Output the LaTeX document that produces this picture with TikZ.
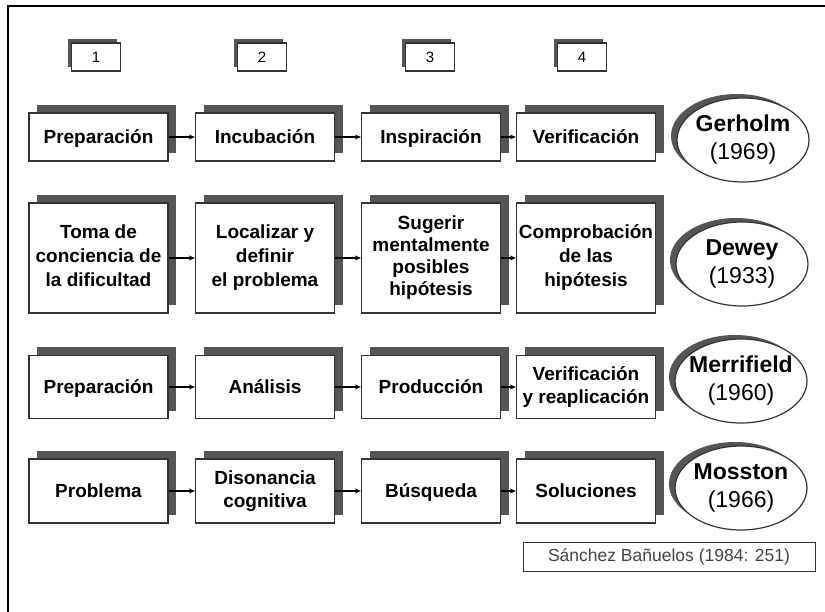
\documentclass[tikz,border=0pt]{standalone}
\usepackage{fontspec}
\setmainfont{Liberation Sans}
\usetikzlibrary{arrows.meta,shapes.geometric,shadows}
\definecolor{boxline}{HTML}{333333}
\definecolor{shadowgray}{HTML}{555555}
\definecolor{citegray}{HTML}{444444}
\begin{document}
\begin{tikzpicture}[x=1pt,y=-1pt,
  stepbox/.style={draw=boxline, line width=1.3pt, fill=white, minimum width=139pt,
    minimum height=#1, align=center, inner sep=0pt,
    font=\bfseries\fontsize{19}{23}\selectfont,
    execute at begin node=\vphantom{Ápy},
    execute at end node=\vphantom{Ápy},
    general shadow={shadow xshift=8pt, shadow yshift=8pt, fill=shadowgray}},
  numbox/.style={draw=boxline, line width=1.2pt, fill=white, minimum width=49pt,
    minimum height=28pt, inner sep=0pt, font=\fontsize{15}{17}\selectfont,
    general shadow={shadow xshift=-3.5pt, shadow yshift=3.5pt, fill=shadowgray}},
  author/.style={ellipse, draw=boxline, line width=1.2pt, fill=white, minimum width=132pt,
    minimum height=84pt, inner sep=0pt,
    general shadow={shadow xshift=-6pt, shadow yshift=4pt, fill=shadowgray}},
  authortext/.style={align=center, inner sep=0pt, font=\fontsize{23}{28}\selectfont},
  flow/.style={draw=black, line width=1.1pt, -{Stealth[length=6pt,width=5pt]}},
  citebox/.style={draw=boxline, line width=1pt, fill=white, minimum width=292pt,
    minimum height=29pt, inner sep=0pt, text=citegray, font=\fontsize{17.5}{20}\selectfont}
]
\useasboundingbox (0,0) rectangle (825,612);
\fill[white] (0,0) rectangle (825,612);
% frame
\draw[line width=2.5pt, black] (8,613) -- (8,6) -- (826,6);

% number boxes
\node[numbox] (n1) at (96,57) {1};
\node[numbox] (n2) at (262,57) {2};
\node[numbox] (n3) at (430,57) {3};
\node[numbox] (n4) at (582,57) {4};

% row 1
\node[stepbox=48pt] (a1) at (98.5,137) {Preparación};
\node[stepbox=48pt] (a2) at (265,137) {Incubación};
\node[stepbox=48pt] (a3) at (431,137) {Inspiración};
\node[stepbox=48pt] (a4) at (586,137) {Verificación};
\node[author] (e1) at (743,140) {};
\node[authortext] (e1t) at (e1.center) {\textbf{Gerholm}\\(1969)};

% row 2
\node[stepbox=110pt, font=\bfseries\fontsize{19}{24}\selectfont] (b1) at (98.5,258) {Toma de\\conciencia de\\la dificultad};
\node[stepbox=110pt, font=\bfseries\fontsize{19}{24}\selectfont] (b2) at (265,258) {Localizar y\\definir\\el problema};
\node[stepbox=110pt, font=\bfseries\fontsize{19}{22}\selectfont] (b3) at (431,258) {Sugerir\\mentalmente\\posibles\\hipótesis};
\node[stepbox=110pt, font=\bfseries\fontsize{19}{24}\selectfont] (b4) at (586,258) {Comprobación\\de las\\hipótesis};
\node[author] (e2) at (742,264) {};
\node[authortext] (e2t) at (e2.center) {\textbf{Dewey}\\(1933)};

% row 3
\node[stepbox=63pt] (c1) at (98.5,387) {Preparación};
\node[stepbox=63pt] (c2) at (265,387) {Análisis};
\node[stepbox=63pt] (c3) at (431,387) {Producción};
\node[stepbox=63pt, font=\bfseries\fontsize{19}{23}\selectfont] (c4) at (586,387) {Verificación\\y reaplicación};
\node[author] (e3) at (741,381) {};
\node[authortext] (e3t) at (e3.center) {\textbf{Merrifield}\\(1960)};

% row 4
\node[stepbox=64pt] (d1) at (98.5,491) {Problema};
\node[stepbox=64pt, font=\bfseries\fontsize{19}{23}\selectfont] (d2) at (265,491) {Disonancia\\cognitiva};
\node[stepbox=64pt] (d3) at (431,491) {Búsqueda};
\node[stepbox=64pt] (d4) at (586,491) {Soluciones};
\node[author] (e4) at (741,488) {};
\node[authortext] (e4t) at (e4.center) {\textbf{Mosston}\\(1966)};

% connectors
\foreach \r in {a,b,c,d}{
  \draw[flow] (\r1.east) -- (\r2.west);
  \draw[flow] (\r2.east) -- (\r3.west);
  \draw[flow] (\r3.east) -- (\r4.west);
}

% citation
\node[citebox] (cite) at (669,556.5) {Sánchez Bañuelos (1984: 251)};
\end{tikzpicture}
\end{document}
